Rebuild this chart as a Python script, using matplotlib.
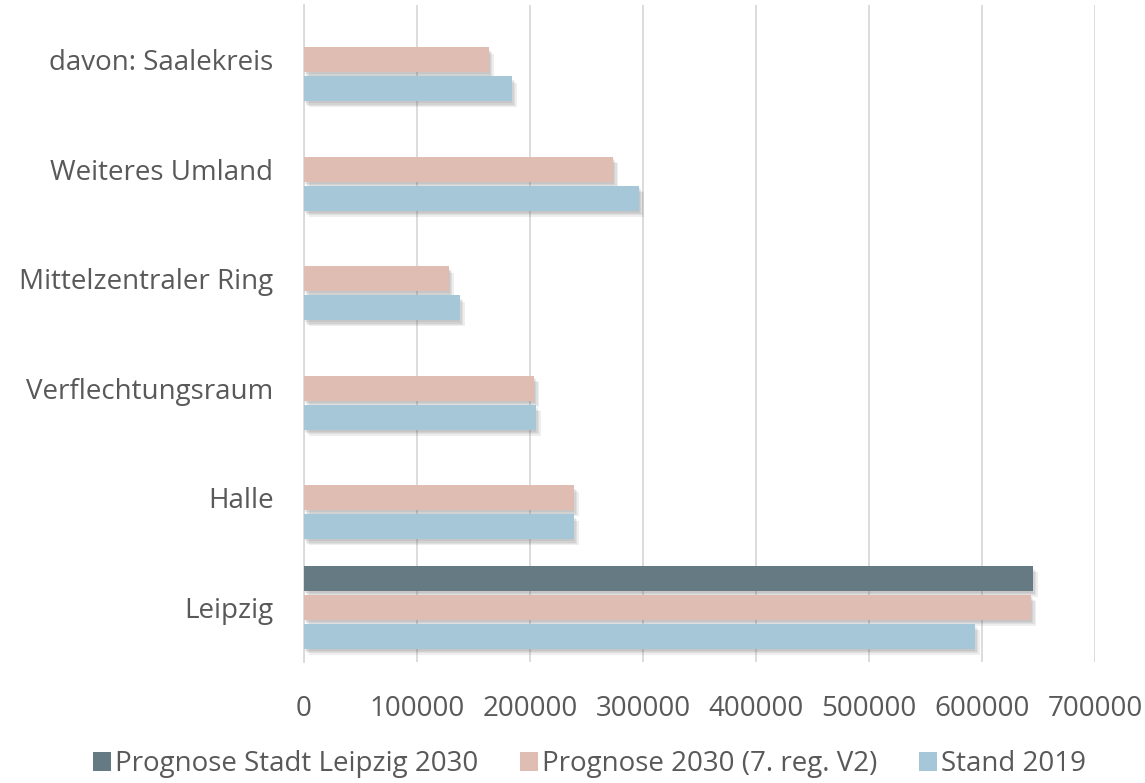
import numpy as np
import matplotlib
matplotlib.use("Agg")
import matplotlib.pyplot as plt
import matplotlib.patheffects as pe
from matplotlib.patches import Patch

plt.rcParams['font.family'] = ['Open Sans', 'DejaVu Sans']

# Regions, bottom to top
categories = ["Leipzig", "Halle", "Verflechtungsraum", "Mittelzentraler Ring",
              "Weiteres Umland", "davon: Saalekreis"]

stand_2019 = [593500, 238700, 205000, 137800, 296700, 183800]
prognose_2030 = [643400, 238700, 203800, 128300, 273700, 163700]
prognose_stadt_leipzig = [644900, None, None, None, None, None]

series_labels = ["Prognose Stadt Leipzig 2030", "Prognose 2030 (7. reg. V2)", "Stand 2019"]
series_colors = ["#667A83", "#DFBDB2", "#A6C7D7"]

x_ticks = [0, 100000, 200000, 300000, 400000, 500000, 600000, 700000]

text_color = "#595959"
grid_color = "#D9D9D9"

fig = plt.figure(figsize=(11.45, 7.83), dpi=100)
ax = fig.add_axes([304 / 1145, 1 - 662 / 783, (1095 - 304) / 1145, (662 - 5) / 783])

y = np.arange(len(categories))
step = 0.265
height = 0.225

# soft drop shadow built from a few faint offset copies
shadow = [pe.SimplePatchShadow(offset=(o, -o - 1), shadow_rgbFace="#606060", alpha=0.10)
          for o in (0.5, 1.5, 2.5, 3.5)] + [pe.Normal()]

all_series = [prognose_stadt_leipzig, prognose_2030, stand_2019]
offsets = [step, 0.0, -step]
for values, off, color in zip(all_series, offsets, series_colors):
    idx = [i for i, v in enumerate(values) if v is not None]
    vals = [values[i] for i in idx]
    bars = ax.barh(y[idx] + off, vals, height=height, color=color, zorder=3)
    for b in bars:
        b.set_path_effects(shadow)

ax.set_xlim(0, 700000)
ax.set_ylim(-0.5, len(categories) - 0.5)
ax.set_xticks(x_ticks)
ax.set_xticklabels([str(t) for t in x_ticks])
ax.set_yticks(y)
ax.set_yticklabels(categories)

ax.grid(axis="x", color=grid_color, linewidth=1.3, zorder=0)
ax.set_axisbelow(True)
for side in ["top", "right", "bottom"]:
    ax.spines[side].set_visible(False)
ax.spines["left"].set_color(grid_color)
ax.spines["left"].set_linewidth(1.3)

ax.tick_params(axis="x", length=0, pad=24, labelsize=20, labelcolor=text_color)
ax.tick_params(axis="y", length=0, pad=22, labelsize=20, labelcolor=text_color)

handles = [Patch(facecolor=c, edgecolor="none") for c in series_colors]
fig.legend(handles, series_labels, loc="center", bbox_to_anchor=(0.515, 0.024),
           ncol=3, frameon=False, fontsize=20, labelcolor=text_color,
           handlelength=0.65, handleheight=0.65, handletextpad=0.15,
           columnspacing=1.5, borderaxespad=0)

fig.savefig("out.png", dpi=100)
